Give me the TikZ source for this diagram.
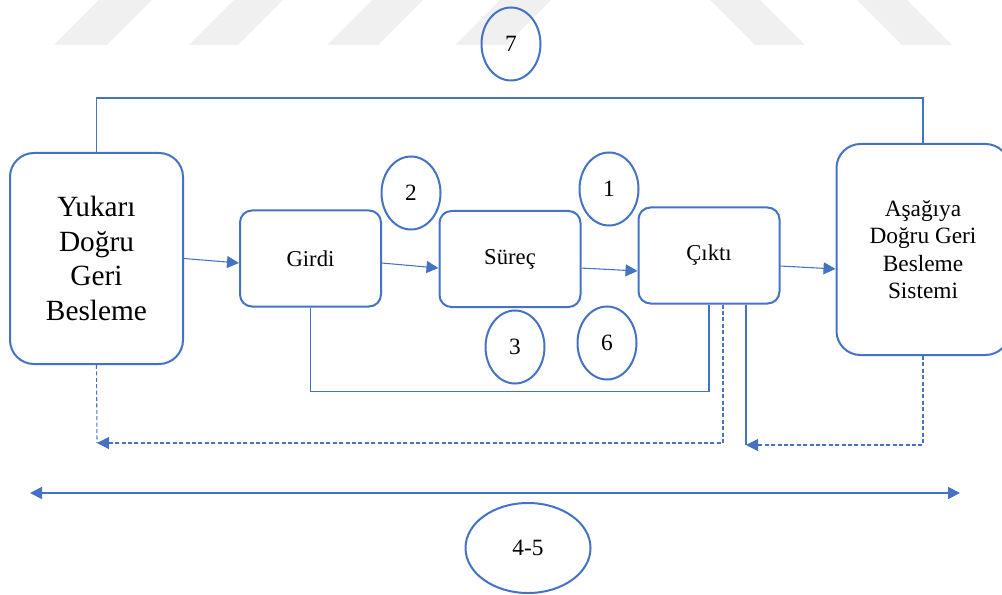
\documentclass[tikz,border=0pt]{standalone}
\usepackage{fontspec}
\setmainfont{Liberation Serif}
\usepackage{xcolor}
\usetikzlibrary{arrows.meta,shapes.geometric}
\definecolor{ofblue}{HTML}{4472C4}

\begin{document}
\begin{tikzpicture}[
  x=0.75pt, y=-0.75pt,
  >={Triangle[length=9pt,width=9pt]},
  side/.style={draw=ofblue, line width=1.5pt, rounded corners=18pt,
               align=center, inner sep=2pt, minimum width=129.75pt, minimum height=158.25pt},
  stage/.style={draw=ofblue, line width=1.5pt, rounded corners=9pt,
                align=center, inner sep=2pt, minimum width=105.75pt, minimum height=72pt, font=\fontsize{17}{20}\selectfont},
  num/.style={ellipse, draw=ofblue, line width=1.5pt, inner sep=0pt,
              minimum width=44.25pt, minimum height=54.75pt, font=\fontsize{17.5}{20}\selectfont},
  flow/.style={->, draw=ofblue, line width=0.8pt},
  link/.style={draw=ofblue, line width=0.8pt},
  fb/.style={draw=ofblue, line width=0.8pt, dash pattern=on 3pt off 1.8pt}
]
\clip (0,0) rectangle (1002,595);
% faint stripes at the top
\fill[black!6] (54,45) -- (107,45) -- (152,0) -- (99,0) -- cycle;
\fill[black!6] (189,45) -- (238,45) -- (283,0) -- (234,0) -- cycle;
\fill[black!6] (327,45) -- (378,45) -- (423,0) -- (372,0) -- cycle;
\fill[black!6] (455,45) -- (506,45) -- (551,0) -- (500,0) -- cycle;
\fill[black!6] (755,45) -- (805,45) -- (760,0) -- (710,0) -- cycle;
\fill[black!6] (902,45) -- (952,45) -- (907,0) -- (857,0) -- cycle;

\node[side, font=\fontsize{22}{26}\selectfont] (up)   at (96.5,258.5) {Yukarı\\Doğru\\Geri\\Besleme};
\node[side, font=\fontsize{17.5}{20.5}\selectfont] (down) at (923,249.5)  {Aşağıya\\Doğru Geri\\Besleme\\Sistemi};
\node[stage] (girdi) at (310.5,258.5) {Girdi};
\node[stage] (surec) at (510,259)     {Süreç};
\node[stage] (cikti) at (709,255.5)   {Çıktı};

\node[num] (n7) at (511,44)  {7};
\node[num] (n2) at (411,193) {2};
\node[num] (n1) at (609,189) {1};
\node[num] (n3) at (515,347) {3};
\node[num] (n6) at (607,343) {6};
\node[num, minimum width=93.75pt, minimum height=67.5pt] (n45) at (528,548) {4-5};

\coordinate (jL) at (97,443);
\coordinate (jR) at (746,445);
\coordinate (aL) at (30,493);
\coordinate (aR) at (960,493);

\draw[flow] (up.east) -- ([yshift=-3.4pt]girdi.west);
\draw[flow] ([yshift=-3.4pt]girdi.east) -- ([yshift=-6.8pt]surec.west);
\draw[flow] ([yshift=-6.8pt]surec.east) -- ([yshift=-11.6pt]cikti.west);
\draw[flow] ([yshift=-7.9pt]cikti.east) -- ([yshift=-14.6pt]down.west);

\draw[link] (up.north) -- ++(0,-54) -| (down.north);
\draw[link] (girdi.south) -- ++(0,84) -| (cikti.south);
\draw[link] ([xshift=27.75pt]cikti.south) -- (jR);

\draw[fb] (up.south) -- (jL);
\draw[fb, ->] ([xshift=10.5pt]cikti.south) |- (jL);
\draw[fb, ->] (down.south) |- (jR);

\draw[<->, draw=ofblue, line width=1.3pt] (aL) -- (aR);
\end{tikzpicture}
\end{document}
